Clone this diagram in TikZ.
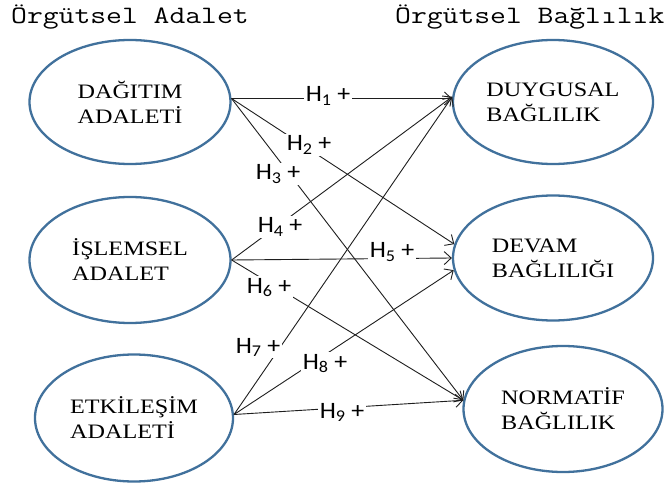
\documentclass[tikz,border=0pt]{standalone}
\usepackage{fontspec}
\usetikzlibrary{shapes.geometric,arrows.meta}
\newfontfamily\ellfont[FakeStretch=1.18]{Liberation Serif}
\newfontfamily\labfont[FakeStretch=1.1]{Carlito}
\definecolor{ellblue}{RGB}{65,113,156}
\definecolor{linegray}{RGB}{30,30,30}
\newcommand{\ttlstretch}[1]{\scalebox{1.23}[1]{\ttfamily\fontsize{25}{28}\selectfont #1}}
\tikzset{
  ell/.style={ellipse, draw=ellblue, line width=2.3pt, inner sep=0pt, align=left,
    font=\ellfont\fontsize{20.5}{25}\selectfont},
  hyp/.style={draw=linegray, line width=0.9pt, -{Straight Barb[length=7pt,width=13pt]}},
  hlab/.style={fill=white, inner sep=1.5pt, anchor=base, font=\labfont\fontsize{23.5}{25}\selectfont},
  ttl/.style={anchor=base west, inner sep=0pt}
}
\begin{document}
\begin{tikzpicture}[x=1pt,y=-1pt]
\useasboundingbox (0,0) rectangle (670,484);
\fill[white] (0,0) rectangle (670,484);
% titles
\node[ttl] (t1) at (11,24) {\ttlstretch{Örgütsel Adalet}};
\node[ttl] (t2) at (395,24) {\ttlstretch{Örgütsel Bağlılık}};
% ellipses
\node[ell, minimum width=201pt, minimum height=124pt] (l1) at (130,102) {DAĞITIM\\ADALETİ};
\node[ell, minimum width=201pt, minimum height=126pt] (l2) at (130,260) {İŞLEMSEL\\ADALET};
\node[ell, minimum width=198pt, minimum height=127pt] (l3) at (134,418) {ETKİLEŞİM\\ADALETİ};
\node[ell, minimum width=200pt, minimum height=124pt] (r1) at (553,102) {DUYGUSAL\\BAĞLILIK};
\node[ell, minimum width=200pt, minimum height=125pt] (r2) at (553,258) {DEVAM\\BAĞLILIĞI};
\node[ell, minimum width=199pt, minimum height=126pt] (r3) at (563,409) {NORMATİF\\BAĞLILIK};
% hypotheses
\draw[hyp] (l1.2) -- (r1.178);
\draw[hyp] (l1.2) -- (r2.172);
\draw[hyp] (l1.2) -- (r3.175);
\draw[hyp] (l2.east) -- (r1.177);
\draw[hyp] (l2.east) -- (r2.west);
\draw[hyp] (l2.east) -- (r3.175);
\draw[hyp] (l3.2) -- (r1.177);
\draw[hyp] (l3.2) -- (r2.187);
\draw[hyp] (l3.2) -- (r3.175);
% labels
\node[hlab] (h1) at (328,102) {H\textsubscript{1} +};
\node[hlab] (h2) at (309,151) {H\textsubscript{2} +};
\node[hlab] (h3) at (278,180) {H\textsubscript{3} +};
\node[hlab] (h4) at (280,233) {H\textsubscript{4} +};
\node[hlab] (h5) at (392,258) {H\textsubscript{5} +};
\node[hlab] (h6) at (269,293) {H\textsubscript{6} +};
\node[hlab] (h7) at (258,353) {H\textsubscript{7} +};
\node[hlab] (h8) at (325,369) {H\textsubscript{8} +};
\node[hlab] (h9) at (342,418) {H\textsubscript{9} +};
\end{tikzpicture}
\end{document}
